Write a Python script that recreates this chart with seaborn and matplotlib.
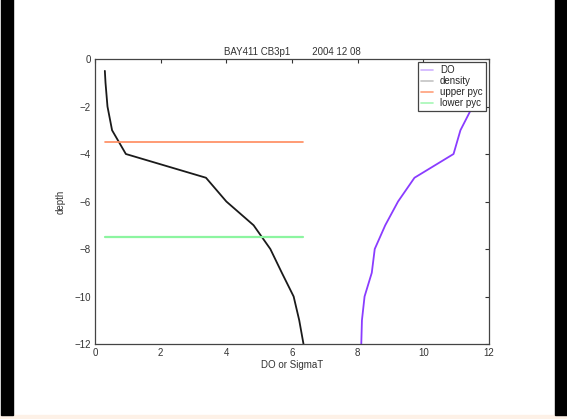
import pandas as pd
import matplotlib
matplotlib.use('Agg')
import matplotlib.pyplot as plt
import seaborn as sns
from matplotlib.patches import Rectangle

# profile values
depth = [-0.5, -1, -2, -3, -4, -5, -6, -7, -8, -9, -10, -11, -12]
do_vals = [11.8, 11.7, 11.5, 11.13, 10.92, 9.73, 9.23, 8.84, 8.52, 8.43, 8.21, 8.13, 8.11]
density = [0.30, 0.32, 0.38, 0.52, 0.94, 3.38, 4.0, 4.83, 5.34, 5.69, 6.05, 6.22, 6.35]
upper_pyc = -3.5
lower_pyc = -7.5
title = 'BAY411 CB3p1        2004 12 08'

df = pd.DataFrame({'depth': depth, 'DO': do_vals, 'density': density})
pyc_x = [min(density), max(density)]
upper_df = pd.DataFrame({'x': pyc_x, 'depth': [upper_pyc] * 2})
lower_df = pd.DataFrame({'x': pyc_x, 'depth': [lower_pyc] * 2})

sns.set_style('white')
plt.rcParams['font.family'] = ['Liberation Sans', 'DejaVu Sans']
plt.rcParams['font.size'] = 7

fig = plt.figure(figsize=(5.67, 4.19), dpi=100)
fig.patch.set_facecolor('white')
# frame of the screenshot
fig.patches.append(Rectangle((0, 0), 1, 4 / 419, transform=fig.transFigure,
                             color='#fdf1e7', zorder=0))
fig.patches.append(Rectangle((1 / 567, 4 / 419), 12 / 567, 1, transform=fig.transFigure,
                             color='black', zorder=0))
fig.patches.append(Rectangle((555 / 567, 4 / 419), 12 / 567, 1, transform=fig.transFigure,
                             color='black', zorder=0))

ax = fig.add_axes([95 / 567, 1 - 344 / 419, 394 / 567, 285 / 419])

sns.lineplot(data=df, x='DO', y='depth', sort=False, estimator=None,
             color='#8a3cff', lw=1.3, label='DO', ax=ax)
sns.lineplot(data=df, x='density', y='depth', sort=False, estimator=None,
             color='#1a1a1a', lw=1.3, label='density', ax=ax)
sns.lineplot(data=upper_df, x='x', y='depth', sort=False, estimator=None,
             color='#ff8a5c', lw=1.2, label='upper pyc', ax=ax)
sns.lineplot(data=lower_df, x='x', y='depth', sort=False, estimator=None,
             color='#8cf5a0', lw=1.6, label='lower pyc', ax=ax)

ax.set_xlim(0, 12)
ax.set_ylim(-12, 0)
ax.set_xticks(range(0, 13, 2))
ax.set_yticks(range(-12, 1, 2))
ax.tick_params(direction='in', length=3, width=0.8, labelsize=7, pad=3,
               top=True, right=True, colors='#333333', labelcolor='#333333')
for s in ax.spines.values():
    s.set_color('#444444')
    s.set_linewidth(0.9)

ax.set_title(title, fontsize=7, pad=3, color='#333333')
ax.set_xlabel('DO or SigmaT', fontsize=7, labelpad=1, color='#333333')
ax.set_ylabel('depth', fontsize=7, labelpad=6, color='#333333')

leg = ax.legend(loc='upper right', fontsize=7, frameon=True, fancybox=False,
                borderaxespad=0.35, handlelength=1.3, handletextpad=0.7,
                labelspacing=0.1, borderpad=0.3, framealpha=1)
leg.get_frame().set_edgecolor('#444444')
leg.get_frame().set_linewidth(0.9)
light = ['#cfb3ff', '#c4c4c4', '#ff9f7a', '#a5f7b5']
for line, c in zip(leg.get_lines(), light):
    line.set_color(c)
    line.set_linewidth(1.2)

fig.savefig('out.png', dpi=100)
